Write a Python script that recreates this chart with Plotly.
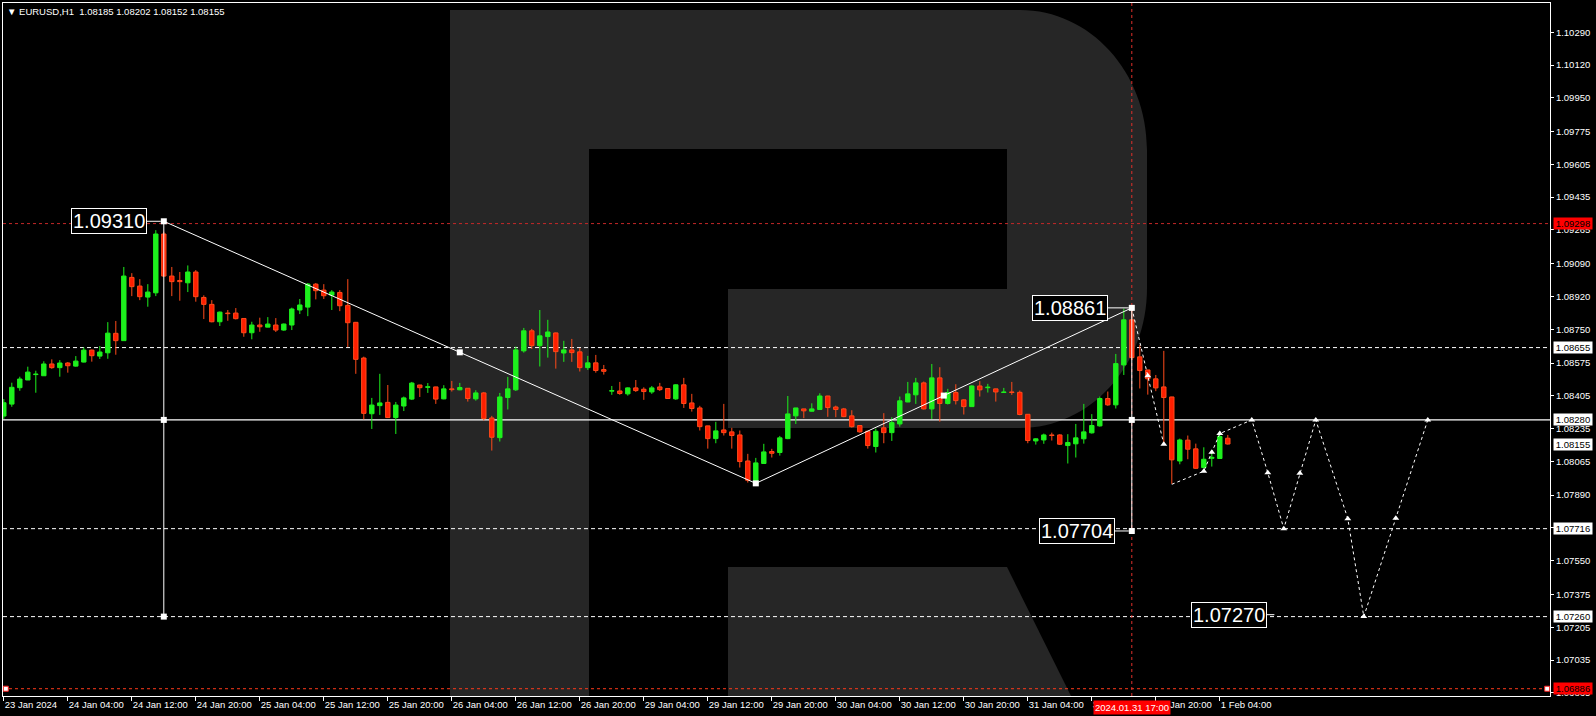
import plotly.graph_objects as go

# ---------------- data (EURUSD H1, bar 0 = 23 Jan 20:00) ----------------
opens = [1.08300,1.08362,1.08447,1.08487,1.08515,1.08509,1.08570,1.08551,1.08575,1.08559,
         1.08580,1.08642,1.08611,1.08628,1.08729,1.08691,1.09019,1.08974,1.08917,1.08939,
         1.09244,1.09026,1.09003,1.08991,1.09047,1.08915,1.08879,1.08789,1.08834,1.08834,
         1.08806,1.08732,1.08772,1.08761,1.08772,1.08746,1.08772,1.08850,1.08865,1.08984,
         1.08953,1.08927,1.08941,1.08874,1.08786,1.08601,1.08312,1.08354,1.08371,1.08292,
         1.08352,1.08388,1.08461,1.08449,1.08451,1.08389,1.08441,1.08436,1.08444,1.08389,
         1.08420,1.08290,1.08188,1.08396,1.08436,1.08638,1.08742,1.08665,1.08712,1.08731,
         1.08627,1.08643,1.08633,1.08551,1.08576,1.08541,1.08429,1.08430,1.08415,1.08446,
         1.08439,1.08425,1.08451,1.08443,1.08389,1.08462,1.08368,1.08342,1.08249,1.08183,
         1.08228,1.08218,1.08202,1.08067,1.07955,1.08054,1.08116,1.08111,1.08183,1.08301,
         1.08337,1.08325,1.08334,1.08404,1.08347,1.08337,1.08301,1.08251,1.08221,1.08142,
         1.08239,1.08214,1.08259,1.08373,1.08410,1.08472,1.08337,1.08498,1.08365,1.08422,
         1.08384,1.08349,1.08456,1.08447,1.08441,1.08422,1.08425,1.08423,1.08309,1.08171,
         1.08176,1.08202,1.08202,1.08147,1.08156,1.08182,1.08213,1.08249,1.08391,1.08358,
         1.08565,1.08799,1.08607,1.08539,1.08493,1.08451,1.08399,1.08067,1.08175,1.08130,
         1.08033,1.08081,1.08080,1.08185]
highs = [1.08388,1.08473,1.08504,1.08556,1.08535,1.08584,1.08594,1.08590,1.08580,1.08611,
         1.08656,1.08645,1.08663,1.08787,1.08793,1.09073,1.09041,1.09010,1.08984,1.09264,
         1.09256,1.09073,1.09047,1.09081,1.09057,1.08926,1.08901,1.08842,1.08850,1.08860,
         1.08808,1.08789,1.08810,1.08813,1.08808,1.08780,1.08862,1.08907,1.08990,1.08990,
         1.08984,1.08953,1.08953,1.09010,1.08788,1.08608,1.08394,1.08519,1.08461,1.08373,
         1.08401,1.08477,1.08462,1.08471,1.08452,1.08460,1.08482,1.08472,1.08445,1.08434,
         1.08425,1.08301,1.08420,1.08503,1.08660,1.08757,1.08752,1.08850,1.08799,1.08733,
         1.08690,1.08700,1.08653,1.08612,1.08617,1.08565,1.08456,1.08477,1.08449,1.08487,
         1.08449,1.08456,1.08472,1.08444,1.08465,1.08498,1.08415,1.08353,1.08250,1.08270,
         1.08363,1.08239,1.08225,1.08104,1.08083,1.08156,1.08130,1.08197,1.08404,1.08342,
         1.08338,1.08366,1.08418,1.08405,1.08354,1.08342,1.08330,1.08252,1.08222,1.08235,
         1.08315,1.08294,1.08401,1.08477,1.08498,1.08479,1.08570,1.08553,1.08441,1.08465,
         1.08387,1.08460,1.08481,1.08467,1.08442,1.08446,1.08477,1.08432,1.08310,1.08185,
         1.08209,1.08214,1.08206,1.08206,1.08259,1.08363,1.08310,1.08401,1.08427,1.08622,
         1.08857,1.08861,1.08669,1.08540,1.08513,1.08638,1.08400,1.08183,1.08199,1.08157,
         1.08138,1.08124,1.08220,1.08202]
lows = [1.08285,1.08348,1.08431,1.08487,1.08421,1.08509,1.08545,1.08504,1.08525,1.08556,
        1.08578,1.08582,1.08596,1.08597,1.08618,1.08691,1.08922,1.08901,1.08867,1.08922,
        1.09022,1.08922,1.08898,1.08943,1.08893,1.08803,1.08786,1.08767,1.08794,1.08801,
        1.08711,1.08698,1.08737,1.08760,1.08736,1.08742,1.08746,1.08829,1.08818,1.08905,
        1.08907,1.08850,1.08844,1.08658,1.08519,1.08283,1.08233,1.08306,1.08290,1.08207,
        1.08326,1.08383,1.08399,1.08420,1.08363,1.08387,1.08427,1.08434,1.08375,1.08380,
        1.08277,1.08121,1.08168,1.08334,1.08430,1.08629,1.08648,1.08557,1.08603,1.08546,
        1.08581,1.08581,1.08531,1.08539,1.08525,1.08515,1.08410,1.08410,1.08406,1.08425,
        1.08384,1.08415,1.08430,1.08390,1.08384,1.08342,1.08323,1.08225,1.08131,1.08159,
        1.08199,1.08131,1.08033,1.07955,1.07948,1.08052,1.08085,1.08095,1.08180,1.08259,
        1.08289,1.08323,1.08332,1.08296,1.08294,1.08294,1.08240,1.08214,1.08131,1.08111,
        1.08159,1.08171,1.08245,1.08372,1.08363,1.08334,1.08285,1.08271,1.08360,1.08360,
        1.08308,1.08349,1.08401,1.08422,1.08375,1.08422,1.08410,1.08304,1.08159,1.08152,
        1.08156,1.08173,1.08150,1.08054,1.08085,1.08157,1.08209,1.08245,1.08353,1.08339,
        1.08513,1.08590,1.08443,1.08411,1.08429,1.08159,1.07948,1.08050,1.08076,1.08026,
        1.08029,1.08038,1.08078,1.08152]
closes = [1.08369,1.08449,1.08492,1.08528,1.08518,1.08570,1.08551,1.08575,1.08561,1.08585,
          1.08642,1.08613,1.08632,1.08730,1.08691,1.09026,1.08971,1.08919,1.08943,1.09244,
          1.09026,1.08997,1.08997,1.09047,1.08919,1.08879,1.08789,1.08839,1.08831,1.08805,
          1.08732,1.08772,1.08763,1.08777,1.08746,1.08777,1.08855,1.08876,1.08984,1.08950,
          1.08924,1.08943,1.08872,1.08784,1.08594,1.08314,1.08357,1.08368,1.08292,1.08357,
          1.08394,1.08471,1.08447,1.08452,1.08388,1.08441,1.08437,1.08448,1.08391,1.08420,
          1.08287,1.08190,1.08399,1.08441,1.08643,1.08742,1.08665,1.08716,1.08736,1.08634,
          1.08643,1.08629,1.08551,1.08576,1.08536,1.08532,1.08432,1.08417,1.08446,1.08432,
          1.08427,1.08446,1.08437,1.08391,1.08462,1.08365,1.08339,1.08245,1.08183,1.08223,
          1.08214,1.08199,1.08064,1.07967,1.08057,1.08114,1.08107,1.08187,1.08311,1.08342,
          1.08327,1.08337,1.08404,1.08344,1.08334,1.08297,1.08245,1.08218,1.08147,1.08221,
          1.08214,1.08266,1.08379,1.08415,1.08472,1.08337,1.08498,1.08365,1.08422,1.08380,
          1.08349,1.08456,1.08436,1.08450,1.08425,1.08425,1.08422,1.08308,1.08173,1.08182,
          1.08202,1.08199,1.08154,1.08163,1.08187,1.08218,1.08251,1.08391,1.08358,1.08572,
          1.08799,1.08603,1.08536,1.08493,1.08446,1.08396,1.08073,1.08176,1.08128,1.08029,
          1.08076,1.08086,1.08194,1.08155]

x_tick_bars = [0, 8, 16, 24, 32, 40, 48, 56, 64, 72, 80, 88, 96, 104, 112, 120, 128, 136, 144, 152]
x_tick_labels = ["23 Jan 2024", "24 Jan 04:00", "24 Jan 12:00", "24 Jan 20:00", "25 Jan 04:00",
                 "25 Jan 12:00", "25 Jan 20:00", "26 Jan 04:00", "26 Jan 12:00", "26 Jan 20:00",
                 "29 Jan 04:00", "29 Jan 12:00", "29 Jan 20:00", "30 Jan 04:00", "30 Jan 12:00",
                 "30 Jan 20:00", "31 Jan 04:00", "31 Jan 12:00", "31 Jan 20:00", "1 Feb 04:00"]
y_tick_values = [1.10290, 1.10120, 1.09950, 1.09775, 1.09605, 1.09435, 1.09265, 1.09090, 1.08920,
                 1.08750, 1.08575, 1.08405, 1.08235, 1.08065, 1.07890, 1.07720, 1.07550, 1.07375,
                 1.07205, 1.07035, 1.06865]

# analysis objects
zigzag_bars = [20, 94, 141]
zigzag_prices = [1.09310, 1.07951, 1.08861]
mid_bars = [57, 117.5]
mid_prices = [1.086305, 1.08406]
vline_left_bars = [20, 20]
vline_left_prices = [1.09310, 1.07260]
vline_right_bars = [141, 141]
vline_right_prices = [1.08861, 1.07704]
anchor_bars = [20, 20, 141, 141]
anchor_prices = [1.08280, 1.07260, 1.08280, 1.07704]
forecast_a_bars = [141, 143, 145]
forecast_a_prices = [1.08861, 1.08509, 1.08154]
forecast_b_bars = [146, 150, 151, 152, 156, 158, 160, 162, 164, 168, 170, 174, 178]
forecast_b_prices = [1.07946, 1.08014, 1.08112, 1.08209, 1.08280, 1.08006, 1.07716, 1.08003,
                     1.08280, 1.07768, 1.07260, 1.07770, 1.08280]
white_dash_levels = [1.08655, 1.07716, 1.07260]
solid_level = 1.08280
red_top_level = 1.09298
red_bottom_level = 1.06886
cross_bar = 141
current_price = 1.08155

Y_MIN, Y_MAX = 1.068483, 1.104419
X_MIN, X_MAX = -0.1, 193.275

GREEN = "#1DF01D"
RED = "#FF1E00"
RED_EDGE = "#FF4A1A"
FONT = "Liberation Sans, Arial, sans-serif"

fig = go.Figure()

# ---------------- RoboForex "R" watermark (paper coordinates) ----------------
PL, PT, PW, PH = 3, 3, 1547, 693


def P(X, Y):
    return f"{(X - PL) / PW:.5f},{1 - (Y - PT) / PH:.5f}"


r_path = ("M" + P(450, 10) + " L" + P(1020, 10) + " C" + P(1090, 10) + " " + P(1147, 72) + " " + P(1147, 150)
          + " L" + P(1147, 288) + " C" + P(1147, 366) + " " + P(1090, 428) + " " + P(1020, 428)
          + " L" + P(728, 428) + " L" + P(728, 289) + " L" + P(1007, 289) + " L" + P(1007, 149)
          + " L" + P(589, 149) + " L" + P(589, 696) + " L" + P(450, 696) + " Z")
leg_path = "M" + P(728, 567) + " L" + P(1007, 567) + " L" + P(1071, 696) + " L" + P(728, 696) + " Z"
for pth in (r_path, leg_path):
    fig.add_shape(type="path", path=pth, xref="paper", yref="paper", layer="below",
                  fillcolor="#262626", line=dict(width=0))

# ---------------- horizontal / vertical level lines ----------------
for lv in white_dash_levels:
    fig.add_shape(type="line", xref="paper", x0=0, x1=1, yref="y", y0=lv, y1=lv, layer="below",
                  line=dict(color="white", width=1, dash="4px,3px"))
fig.add_shape(type="line", xref="paper", x0=0, x1=1, yref="y", y0=solid_level, y1=solid_level, layer="below",
              line=dict(color="white", width=1.2))
fig.add_shape(type="line", xref="paper", x0=0, x1=1, yref="y", y0=red_top_level, y1=red_top_level, layer="below",
              line=dict(color="#C42828", width=1, dash="3px,3px"))
fig.add_shape(type="line", xref="paper", x0=0, x1=1, yref="y", y0=red_bottom_level, y1=red_bottom_level,
              layer="below", line=dict(color="#FF3A1A", width=1, dash="3px,3px"))
fig.add_shape(type="line", xref="x", x0=cross_bar, x1=cross_bar, yref="paper", y0=0, y1=1, layer="below",
              line=dict(color="#E0302A", width=1, dash="3px,3px"))

# ---------------- candles ----------------
bars = list(range(len(opens)))
up = [i for i in bars if closes[i] >= opens[i]]
dn = [i for i in bars if closes[i] < opens[i]]


def wick_xy(idx):
    xs, ys = [], []
    for i in idx:
        top = max(opens[i], closes[i])
        bot = min(opens[i], closes[i])
        xs += [i, i, None, i, i, None]
        ys += [highs[i], top, None, bot, lows[i], None]
    return xs, ys


for idx, col, edge in ((up, GREEN, GREEN), (dn, RED, RED_EDGE)):
    wx, wy = wick_xy(idx)
    fig.add_trace(go.Scatter(x=wx, y=wy, mode="lines", line=dict(color=edge, width=1), hoverinfo="skip"))
    fig.add_trace(go.Bar(x=idx, y=[closes[i] - opens[i] for i in idx], base=[opens[i] for i in idx],
                         width=0.55, marker=dict(color=col, line=dict(color=edge, width=1)), hoverinfo="skip"))

# ---------------- analysis lines ----------------
fig.add_trace(go.Scatter(x=zigzag_bars, y=zigzag_prices, mode="lines", line=dict(color="white", width=1)))
fig.add_trace(go.Scatter(x=vline_left_bars, y=vline_left_prices, mode="lines", line=dict(color="white", width=1)))
fig.add_trace(go.Scatter(x=vline_right_bars, y=vline_right_prices, mode="lines", line=dict(color="white", width=1)))
for fx, fy in ((forecast_a_bars, forecast_a_prices), (forecast_b_bars, forecast_b_prices)):
    fig.add_trace(go.Scatter(x=fx, y=fy, mode="lines", line=dict(color="white", width=1, dash="3px,3px")))
    fig.add_trace(go.Scatter(x=fx[1:], y=fy[1:], mode="markers",
                             marker=dict(symbol="triangle-up", size=6, color="white")))
fig.add_trace(go.Scatter(x=zigzag_bars + mid_bars + anchor_bars, y=zigzag_prices + mid_prices + anchor_prices,
                         mode="markers", marker=dict(symbol="square", size=6, color="white")))
fig.add_trace(go.Scatter(x=[X_MIN + 0.35, X_MAX - 0.35], y=[red_bottom_level] * 2, mode="markers",
                         marker=dict(symbol="square", size=5, color="white", line=dict(color="#FF2020", width=1))))

# ---------------- annotations ----------------
ann = []


def price_label(x, y, text, ax):
    ann.append(dict(x=x, y=y, xref="x", yref="y", text=text, showarrow=True, arrowhead=0, arrowwidth=1,
                    arrowcolor="white", ax=ax, ay=0, standoff=3, bgcolor="black", bordercolor="white",
                    borderwidth=1, borderpad=1, font=dict(family=FONT, size=20, color="white")))


price_label(20, 1.09310, "1.09310", -55)
price_label(141, 1.08861, "1.08861", -62)
price_label(141, 1.07704, "1.07704", -55)
price_label(159.2, 1.07270, "1.07270", -48)


def axis_box(y, text, bg, fg="black"):
    ann.append(dict(x=1, y=y, xref="paper", yref="y", xanchor="left", yanchor="middle", xshift=3,
                    text=text, showarrow=False, bgcolor=bg, borderpad=0, width=38, height=11,
                    font=dict(family=FONT, size=9.5, color=fg)))


axis_box(red_top_level, f"{red_top_level:.5f}", "#FF0000")
for lv in [1.08655, solid_level, current_price, 1.07716, 1.07260]:
    axis_box(lv, f"{lv:.5f}", "white")
axis_box(red_bottom_level, f"{red_bottom_level:.5f}", "#FF0000")

ann.append(dict(x=cross_bar, y=0, xref="x", yref="paper", yanchor="top", yshift=-4, text="2024.01.31 17:00",
                showarrow=False, bgcolor="#FF0000", borderpad=1, font=dict(family=FONT, size=9.5, color="white")))
ann.append(dict(x=0, y=1, xref="paper", yref="paper", xanchor="left", yanchor="top", xshift=2, yshift=-1,
                text="▼ EURUSD,H1  1.08185 1.08202 1.08152 1.08155", showarrow=False,
                font=dict(family=FONT, size=9.5, color="white")))

fig.update_layout(
    width=1596, height=716, margin=dict(l=3, r=46, t=3, b=20),
    paper_bgcolor="black", plot_bgcolor="black", showlegend=False, hovermode=False,
    barmode="overlay", annotations=ann,
    xaxis=dict(range=[X_MIN, X_MAX], showgrid=False, zeroline=False, tickmode="array",
               tickvals=x_tick_bars, ticktext=x_tick_labels, ticks="outside", ticklen=4, tickcolor="white",
               ticklabelposition="outside right", tickfont=dict(family=FONT, size=9.5, color="white"),
               showline=True, mirror=True, linecolor="white", linewidth=1),
    yaxis=dict(range=[Y_MIN, Y_MAX], side="right", showgrid=False, zeroline=False, tickmode="array",
               tickvals=y_tick_values, ticktext=[f"{v:.5f}" for v in y_tick_values], ticks="outside",
               ticklen=3, tickcolor="white", tickfont=dict(family=FONT, size=9.5, color="white"),
               showline=True, mirror=True, linecolor="white", linewidth=1),
)

fig.write_html("out.html", config={"displayModeBar": False, "staticPlot": True},
               post_script="document.body.style.margin='0';document.body.style.overflow='hidden';"
                           "document.body.style.background='black';")
